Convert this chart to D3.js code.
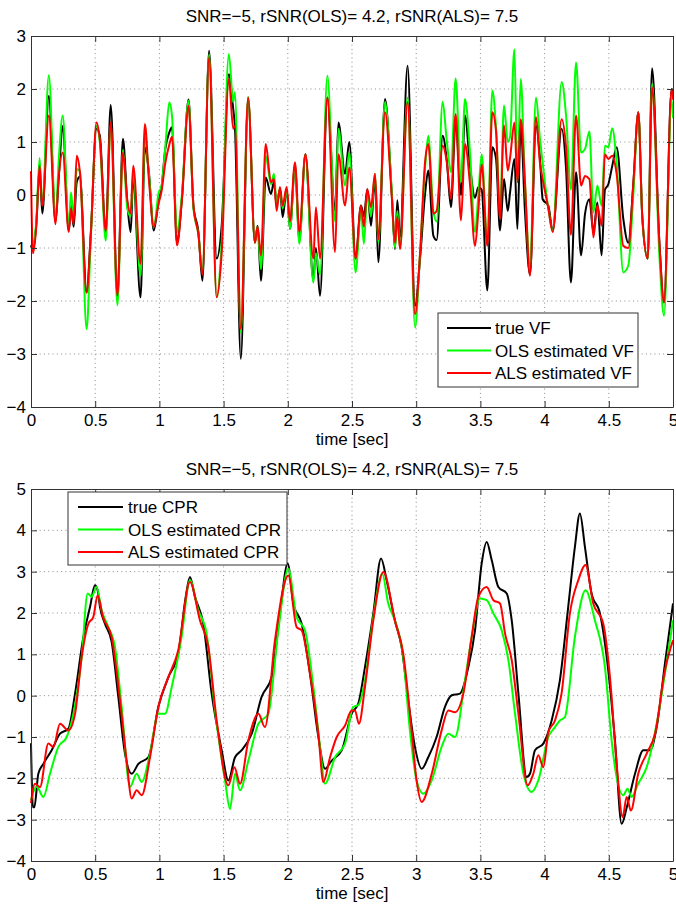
<!DOCTYPE html>
<html>
<head>
<meta charset="utf-8">
<script src="https://cdn.jsdelivr.net/npm/d3@7"></script>
<style>
  body { margin: 0; background: #fff; }
  svg text { font-family: "Liberation Sans", Arial, sans-serif; fill: #000; }
</style>
</head>
<body>
<div id="chart"></div>
<script>
// ---- top panel: VF signal ----
const vfTime = [
  0, 0.015, 0.041, 0.067, 0.088, 0.139, 0.191, 0.216, 0.247, 0.294,
  0.312, 0.332, 0.356, 0.381, 0.433, 0.466, 0.510, 0.536, 0.582, 0.621,
  0.673, 0.716, 0.750, 0.776, 0.796, 0.853, 0.887, 0.918, 0.956, 0.995,
  1.015, 1.046, 1.077, 1.098, 1.137, 1.175, 1.227, 1.265, 1.304, 1.335,
  1.387, 1.446, 1.485, 1.541, 1.575, 1.588, 1.634, 1.691, 1.744, 1.765,
  1.791, 1.828, 1.869, 1.892, 1.913, 1.939, 1.960, 1.991, 2.017, 2.056,
  2.090, 2.137, 2.199, 2.219, 2.251, 2.308, 2.368, 2.394, 2.446, 2.479,
  2.528, 2.570, 2.593, 2.619, 2.648, 2.679, 2.705, 2.757, 2.809, 2.835,
  2.853, 2.874, 2.933, 2.991, 3.030, 3.069, 3.094, 3.134, 3.159, 3.206,
  3.237, 3.271, 3.307, 3.349, 3.380, 3.419, 3.458, 3.484, 3.510, 3.554,
  3.593, 3.622, 3.653, 3.684, 3.713, 3.731, 3.765, 3.788, 3.814, 3.847,
  3.886, 3.933, 3.964, 3.985, 4.029, 4.063, 4.133, 4.167, 4.205, 4.245,
  4.284, 4.315, 4.349, 4.380, 4.411, 4.444, 4.470, 4.496, 4.527, 4.561,
  4.613, 4.652, 4.691, 4.730, 4.761, 4.803, 4.837, 4.894, 4.930, 4.989,
  5.0
];
const vfTrue = [
  -0.95, -1.05, -0.55, 0.5, -0.35, 1.87, -0.5, 0.33, 1.3, -0.67,
  -0.2, -0.6, 0.24, 0.35, -1.84, -0.7, 1.25, 1.12, -0.7, 1.7,
  -1.9, 1.06, -0.14, -0.7, 0.3, -1.93, 0.9, 0.43, -0.67, -0.08,
  0.11, 0.87, 1.18, 1.28, -0.9, -0.08, 1.8, -0.2, -0.7, -1.62,
  2.72, -1.2, -0.58, 2.28, 1.62, 1.3, -3.09, 1.81, -0.9, -0.58,
  -1.62, 0.33, 0.02, 0.25, -0.2, 0.11, -0.42, 0.11, -0.64, 0.55,
  -0.85, 0.77, -1.6, -1.0, -1.9, 1.84, -0.3, 1.37, 0.4, 1.0,
  -1.2, -0.2, -0.4, 0.11, -0.58, 0.3, -1.27, 1.81, 0.05, -1.02,
  -0.1, -0.8, 2.44, -2.09, -1.2, 0.02, 0.46, -0.77, -0.85, 1.12,
  0.68, -0.23, 1.4, 0.0, 1.5, 0.55, -0.05, 0.15, 0.1, -1.8,
  0.9, 0.68, -0.67, 0.3, -0.3, 0.05, 0.68, -0.64, 1.3, -0.3,
  -1.5, 1.3, 0.68, -0.08, -0.2, -0.67, 1.25, 0.5, -1.65, 0.43,
  -1.14, -0.35, -0.08, -0.7, -0.14, -1.14, 0.1, 0.2, 0.55, 0.9,
  -0.45, -0.9, 0.21, 1.56, -0.42, -1.2, 2.39, -0.9, -2.03, 2.0,
  1.95
];
const vfOLS = [
  -0.9, -0.9, -0.5, 0.7, -0.2, 2.26, -0.45, 0.65, 1.5, -0.6,
  0.05, -0.45, 0.49, 0.45, -2.53, -0.8, 1.3, 1.0, -0.86, 1.3,
  -2.08, 0.85, -0.25, -0.4, 0.4, -1.52, 1.1, 0.4, -0.6, 0.05,
  0.15, 0.9, 1.75, 1.5, -0.7, 0.0, 1.78, -0.25, -0.75, -1.45,
  2.65, -1.93, -0.9, 2.66, 1.75, 1.94, -2.6, 1.85, -0.9, -0.6,
  -1.4, 0.74, 0.2, 0.4, -0.15, 0.11, -0.25, 0.1, -0.64, 0.55,
  -0.92, 0.77, -1.65, -1.1, -1.5, 2.25, -0.5, 1.25, 0.18, 0.8,
  -1.46, -0.3, -0.92, 0.05, -0.4, 0.4, -0.9, 1.75, 0.1, -1.0,
  -0.3, -1.0, 1.84, -2.5, -1.1, 0.5, 1.12, -0.3, -0.5, 1.76,
  1.05, 0.43, 2.2, 0.24, 1.81, 0.8, -0.7, 0.0, 0.77, -0.9,
  1.97, 1.25, -0.3, 1.69, 1.0, 1.1, 2.75, 0.24, 2.19, 0.24,
  -1.3, 1.84, 1.05, 0.6, -0.25, -0.67, 2.13, 1.5, 0.1, 2.5,
  0.8, 0.87, 1.2, -0.33, 0.18, -0.2, 0.93, 0.9, 1.26, 0.6,
  -1.46, -1.33, 0.0, 1.56, -0.42, -1.2, 2.1, -1.15, -2.28, 1.8,
  1.45
];
const vfALS = [
  0.45, -1.1, -0.6, 0.55, -0.2, 1.5, -0.55, 0.35, 0.8, -0.7,
  -0.25, -0.55, 0.74, 0.43, -1.84, -0.75, 1.37, 1.05, -0.68, 1.37,
  -1.9, 0.8, -0.1, -0.35, 0.55, -1.3, 1.34, 0.3, -0.6, -0.15,
  0.05, 0.6, 0.95, 1.1, -0.95, -0.1, 1.68, -0.2, -0.75, -1.5,
  2.6, -1.93, -1.1, 2.19, 1.25, 1.3, -2.53, 1.84, -0.9, -0.6,
  -1.14, 0.96, 0.24, 0.3, -0.3, 0.15, -0.2, 0.15, -0.5, 0.62,
  -0.7, 0.77, -1.2, -0.23, -1.2, 1.84, -1.08, 0.77, -0.2, 0.52,
  -1.2, -0.2, -0.6, 0.11, -0.23, 0.4, -0.83, 1.56, 0.0, -0.9,
  -0.4, -1.02, 1.75, -2.25, -1.1, 0.62, 0.96, -0.35, -0.3, 0.93,
  0.65, -0.07, 1.53, -0.48, 0.96, 0.2, -0.96, -0.3, 0.58, -0.96,
  1.56, 1.2, -0.45, 1.31, 0.46, 0.7, 1.37, 0.24, 1.43, 0.24,
  -1.52, 1.47, 0.6, 0.3, -0.25, -0.7, 1.43, 0.9, -0.75, 1.5,
  0.18, 0.36, 0.3, -0.8, -0.2, -0.58, 0.77, 0.68, 0.74, 0.4,
  -0.96, -1.0, 0.21, 1.56, -0.42, -1.2, 2.03, -0.9, -2.03, 2.0,
  1.8
];

// ---- bottom panel: CPR artifact ----
const cprTrueTime = [
  0, 0.015, 0.026, 0.057, 0.096, 0.161, 0.226, 0.291, 0.343, 0.408,
  0.46, 0.498, 0.519, 0.537, 0.576, 0.628, 0.68, 0.732, 0.784, 0.836,
  0.914, 0.992, 1.07, 1.147, 1.205, 1.238, 1.277, 1.342, 1.407, 1.485,
  1.537, 1.589, 1.641, 1.719, 1.796, 1.874, 1.939, 1.999, 2.043, 2.108,
  2.173, 2.238, 2.29, 2.342, 2.42, 2.497, 2.549, 2.601, 2.666, 2.726,
  2.77, 2.834, 2.886, 2.938, 2.99, 3.043, 3.094, 3.159, 3.224, 3.277,
  3.341, 3.406, 3.458, 3.51, 3.549, 3.588, 3.64, 3.705, 3.744, 3.796,
  3.86, 3.886, 3.925, 3.99, 4.055, 4.119, 4.184, 4.236, 4.275, 4.314,
  4.366, 4.431, 4.493, 4.548, 4.6, 4.64, 4.704, 4.769, 4.821, 4.873,
  4.937, 5.0
];
const cprTrue = [
  -1.15, -2.7, -2.7, -1.89, -1.65, -1.32, -0.92, -0.8, 0.05, 1.42,
  2.15, 2.67, 2.55, 2.15, 1.74, 1.3, -0.03, -1.4, -1.89, -1.65,
  -1.49, -0.27, 0.45, 1.02, 2.39, 2.87, 2.39, 1.74, 0.05, -1.32,
  -2.05, -1.49, -1.32, -0.92, -0.03, 0.45, 1.99, 3.2, 2.23, 1.74,
  0.53, -1.0, -1.77, -1.57, -1.32, -0.44, -0.19, 0.69, 1.99, 3.32,
  2.79, 1.82, 1.18, -0.11, -1.24, -1.77, -1.49, -1.0, -0.27, 0.01,
  0.05, 0.69, 1.58, 3.2, 3.72, 3.28, 2.63, 2.47, 1.82, 0.05,
  -1.97, -1.89, -1.32, -1.16, -0.6, 0.37, 2.15, 3.6, 4.41, 3.6,
  2.47, 1.99, 0.69, -1.08, -3.1, -2.7, -1.89, -1.32, -1.32, -0.76,
  0.77, 2.23
];
const cprOLSTime = [
  0, 0.044, 0.096, 0.148, 0.213, 0.278, 0.33, 0.395, 0.441, 0.472,
  0.511, 0.55, 0.602, 0.654, 0.706, 0.771, 0.823, 0.862, 0.927, 0.992,
  1.044, 1.096, 1.173, 1.238, 1.303, 1.368, 1.433, 1.511, 1.55, 1.589,
  1.628, 1.693, 1.771, 1.848, 1.926, 2.004, 2.069, 2.134, 2.199, 2.251,
  2.29, 2.368, 2.446, 2.51, 2.549, 2.601, 2.666, 2.736, 2.782, 2.834,
  2.899, 2.951, 3.003, 3.056, 3.121, 3.198, 3.25, 3.302, 3.38, 3.432,
  3.497, 3.549, 3.601, 3.666, 3.718, 3.77, 3.835, 3.899, 3.951, 4.029,
  4.081, 4.119, 4.158, 4.236, 4.319, 4.392, 4.47, 4.522, 4.548, 4.613,
  4.646, 4.677, 4.729, 4.795, 4.873, 4.937, 5.0
];
const cprOLS = [
  -2.53, -2.2, -2.45, -1.89, -1.24, -1.0, -0.44, 0.94, 2.47, 2.39,
  2.63, 2.07, 1.66, 1.18, -0.27, -2.21, -1.89, -2.09, -1.4, -0.44,
  -0.44, 0.21, 1.42, 2.79, 2.07, 1.5, -0.36, -2.05, -2.74, -1.89,
  -2.29, -1.57, -0.68, -0.44, 1.58, 3.07, 1.9, 1.58, 0.21, -1.24,
  -2.13, -1.49, -1.16, -0.27, -0.23, 0.37, 1.9, 2.95, 2.23, 1.82,
  0.94, -0.84, -2.05, -2.37, -2.05, -1.24, -0.92, -1.0, 0.37, 1.42,
  2.35, 2.31, 1.99, 1.58, 0.86, -0.44, -1.89, -2.33, -2.05, -1.0,
  -0.76, -0.6, -0.52, 1.42, 2.55, 1.82, 0.69, -1.08, -1.73, -2.41,
  -2.25, -2.45, -2.13, -1.73, -0.68, 0.53, 1.82
];
const cprALSTime = [
  0, 0.031, 0.07, 0.135, 0.174, 0.226, 0.291, 0.343, 0.395, 0.447,
  0.485, 0.519, 0.561, 0.628, 0.693, 0.745, 0.784, 0.823, 0.862, 0.927,
  0.992, 1.07, 1.147, 1.238, 1.316, 1.381, 1.446, 1.537, 1.584, 1.628,
  1.693, 1.771, 1.822, 1.9, 2.004, 2.069, 2.108, 2.173, 2.238, 2.277,
  2.329, 2.381, 2.446, 2.497, 2.523, 2.554, 2.601, 2.666, 2.744, 2.834,
  2.899, 2.964, 3.003, 3.043, 3.121, 3.198, 3.25, 3.302, 3.367, 3.432,
  3.484, 3.549, 3.601, 3.653, 3.692, 3.744, 3.796, 3.868, 3.912, 3.951,
  3.99, 4.029, 4.081, 4.132, 4.197, 4.262, 4.319, 4.379, 4.457, 4.509,
  4.561, 4.608, 4.639, 4.672, 4.729, 4.795, 4.86, 4.937, 5.0
];
const cprALS = [
  -2.6, -2.13, -2.21, -1.16, -1.24, -0.68, -0.84, -0.44, 0.94, 1.74,
  1.9, 2.43, 1.9, 1.42, -0.11, -1.57, -2.49, -2.29, -2.41, -1.49,
  -0.27, 0.45, 1.1, 2.75, 1.82, 1.18, -0.6, -2.17, -1.73, -2.13,
  -1.08, -0.44, -0.76, 1.34, 2.91, 1.66, 1.58, 0.53, -0.92, -2.09,
  -1.49, -1.0, -0.72, -0.36, -0.36, -0.68, 0.21, 1.82, 2.99, 1.82,
  1.02, -0.84, -2.05, -2.57, -1.89, -0.84, -0.36, -0.4, 0.05, 1.42,
  2.39, 2.63, 2.31, 2.23, 1.5, 0.86, -0.44, -2.17, -1.89, -1.44,
  -1.73, -0.88, -0.6, 0.05, 1.99, 2.79, 3.16, 2.23, 1.74, 0.45,
  -1.65, -2.94, -2.45, -2.78, -1.89, -1.4, -0.92, 0.61, 1.34
];

const xTicks = [0, 0.5, 1, 1.5, 2, 2.5, 3, 3.5, 4, 4.5, 5];
const vfYTicks = [-4, -3, -2, -1, 0, 1, 2, 3];
const cprYTicks = [-4, -3, -2, -1, 0, 1, 2, 3, 4, 5];
const titleText = "SNR=\u22125, rSNR(OLS)= 4.2, rSNR(ALS)= 7.5";
const xLabel = "time [sec]";
const vfLegend = ["true VF", "OLS estimated VF", "ALS estimated VF"];
const cprLegend = ["true CPR", "OLS estimated CPR", "ALS estimated CPR"];
const colors = ["#000000", "#00ff00", "#ff0000"];

const W = 676, H = 906;
const FONT = 17;

const svg = d3.select("#chart")
  .append("svg")
    .attr("width", W)
    .attr("height", H);

const fmtY = d => d < 0 ? "\u2212" + (-d) : String(d);

function drawPanel(opts) {
  const { top, bottom, yDomain, yTicks, series, legend } = opts;
  const left = 31, right = 673;

  const x = d3.scaleLinear().domain([0, 5]).range([left, right]);
  const y = d3.scaleLinear().domain(yDomain).range([bottom, top]);

  const g = svg.append("g");

  // dotted grid
  g.append("g").selectAll("line.gx")
    .data(xTicks.slice(1, -1))
    .join("line")
      .attr("x1", d => x(d)).attr("x2", d => x(d))
      .attr("y1", top).attr("y2", bottom)
      .attr("stroke", "#8a8a8a")
      .attr("stroke-dasharray", "1,3.3");
  g.append("g").selectAll("line.gy")
    .data(yTicks.slice(1, -1))
    .join("line")
      .attr("x1", left).attr("x2", right)
      .attr("y1", d => y(d)).attr("y2", d => y(d))
      .attr("stroke", "#8a8a8a")
      .attr("stroke-dasharray", "1,3.3");

  // data lines, red drawn last
  const line = d3.line()
    .x(d => x(d[0]))
    .y(d => y(d[1]))
    .curve(d3.curveMonotoneX);

  series.forEach((s, i) => {
    g.append("path")
      .datum(d3.zip(s.t, s.v))
      .attr("fill", "none")
      .attr("stroke", colors[i])
      .attr("stroke-width", 2)
      .attr("stroke-linejoin", "round")
      .attr("d", line);
  });

  // axes (box with inward ticks)
  const axisColor = "#333";
  const bottomAxis = g.append("g")
    .attr("transform", `translate(0,${bottom})`)
    .call(d3.axisBottom(x).tickValues(xTicks).tickFormat(d => String(d))
      .tickSizeInner(-6).tickSizeOuter(0).tickPadding(7));
  const topAxis = g.append("g")
    .attr("transform", `translate(0,${top})`)
    .call(d3.axisTop(x).tickValues(xTicks).tickFormat("")
      .tickSizeInner(-6).tickSizeOuter(0));
  const leftAxis = g.append("g")
    .attr("transform", `translate(${left},0)`)
    .call(d3.axisLeft(y).tickValues(yTicks).tickFormat(fmtY)
      .tickSizeInner(-6).tickSizeOuter(0).tickPadding(5));
  const rightAxis = g.append("g")
    .attr("transform", `translate(${right},0)`)
    .call(d3.axisRight(y).tickValues(yTicks).tickFormat("")
      .tickSizeInner(-6).tickSizeOuter(0));

  [bottomAxis, topAxis, leftAxis, rightAxis].forEach(a => {
    a.select(".domain").attr("stroke", axisColor);
    a.selectAll(".tick line").attr("stroke", axisColor);
    a.selectAll(".tick text")
      .style("font-size", FONT + "px")
      .style("font-family", '"Liberation Sans", Arial, sans-serif')
      .attr("fill", "#000");
  });

  // title and x label
  svg.append("text")
    .attr("x", (left + right) / 2)
    .attr("y", top - 14)
    .attr("text-anchor", "middle")
    .style("font-size", FONT + "px")
    .text(titleText);

  svg.append("text")
    .attr("x", (left + right) / 2)
    .attr("y", bottom + 38)
    .attr("text-anchor", "middle")
    .style("font-size", FONT + "px")
    .text(xLabel);

  // legend
  const lg = svg.append("g")
    .attr("transform", `translate(${legend.x},${legend.y})`);
  lg.append("rect")
    .attr("width", legend.w)
    .attr("height", legend.h)
    .attr("fill", "#fff")
    .attr("stroke", axisColor);
  legend.labels.forEach((lab, i) => {
    const cy = 15 + i * 22.5;
    lg.append("line")
      .attr("x1", legend.lineX0).attr("x2", legend.lineX1)
      .attr("y1", cy).attr("y2", cy)
      .attr("stroke", colors[i])
      .attr("stroke-width", 2);
    lg.append("text")
      .attr("x", legend.textX)
      .attr("y", cy)
      .attr("dy", "0.36em")
      .style("font-size", FONT + "px")
      .text(lab);
  });
}

drawPanel({
  top: 36, bottom: 407,
  yDomain: [-4, 3], yTicks: vfYTicks,
  series: [
    { t: vfTime, v: vfTrue },
    { t: vfTime, v: vfOLS },
    { t: vfTime, v: vfALS }
  ],
  legend: { x: 438, y: 313, w: 200, h: 74, lineX0: 9, lineX1: 53, textX: 57, labels: vfLegend }
});

drawPanel({
  top: 489, bottom: 861,
  yDomain: [-4, 5], yTicks: cprYTicks,
  series: [
    { t: cprTrueTime, v: cprTrue },
    { t: cprOLSTime, v: cprOLS },
    { t: cprALSTime, v: cprALS }
  ],
  legend: { x: 68, y: 492, w: 219, h: 73, lineX0: 10, lineX1: 55, textX: 60, labels: cprLegend }
});
</script>
</body>
</html>
